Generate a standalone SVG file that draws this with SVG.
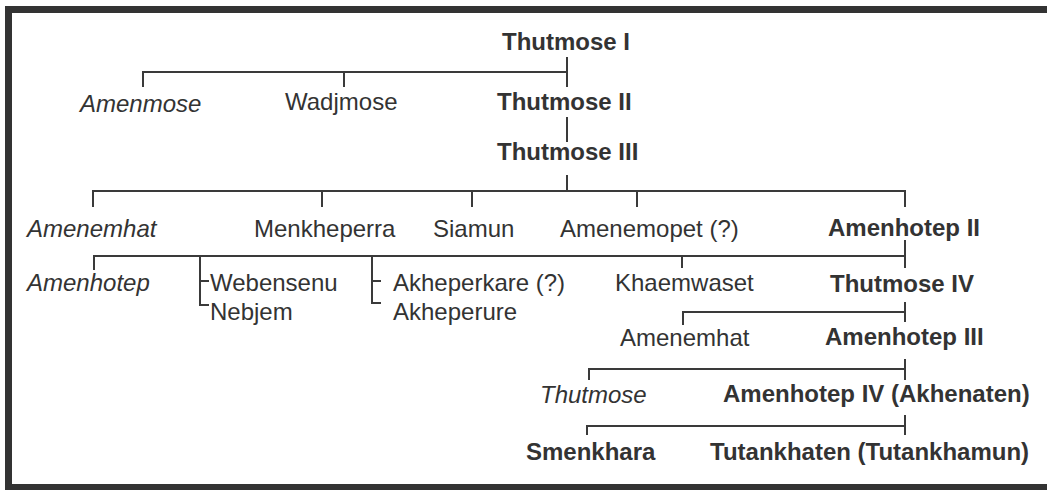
<svg xmlns="http://www.w3.org/2000/svg" width="1047" height="490" viewBox="0 0 1047 490">
<style>
text{font-family:"Liberation Sans",Arial,sans-serif;font-size:24px;fill:#333}
.b{font-weight:bold}
.i{font-style:italic}
.c line,.c path{stroke:#3a3a3a;stroke-width:2;fill:none}
</style>
<rect x="0" y="0" width="1047" height="490" fill="#fff"/>
<g id="frame" fill="#333">
<rect x="5" y="6" width="1042" height="7"/>
<rect x="5" y="6" width="7" height="484"/>
<rect x="5" y="484" width="1042" height="6"/>
</g>
<g class="c" id="connectors">
<path d="M143,87 V72 H567"/>
<line x1="344" y1="72" x2="344" y2="87"/>
<line x1="567" y1="57" x2="567" y2="87"/>
<line x1="567" y1="117" x2="567" y2="142"/>
<path d="M93,207 V191 H905 V207"/>
<line x1="322" y1="191" x2="322" y2="207"/>
<line x1="472" y1="191" x2="472" y2="207"/>
<line x1="637" y1="191" x2="637" y2="207"/>
<line x1="567" y1="175" x2="567" y2="191"/>
<path d="M94,270 V256 H905"/>
<line x1="905" y1="240" x2="905" y2="268"/>
<path d="M209,281 H200 M200,256 V305 H209"/>
<path d="M381,281 H372 M372,256 V303 H381"/>
<line x1="682" y1="256" x2="682" y2="268"/>
<path d="M683,325 V312 H905"/>
<line x1="905" y1="302" x2="905" y2="322"/>
<path d="M589,380 V369 H905"/>
<line x1="905" y1="359" x2="905" y2="380"/>
<path d="M587,435 V426 H905"/>
<line x1="905" y1="415" x2="905" y2="435"/>
</g>
<g id="thutmose1"><text class="b" x="502" y="50">Thutmose I</text></g>
<g id="amenmose"><text class="i" x="80" y="112">Amenmose</text></g>
<g id="wadjmose"><text x="285" y="110">Wadjmose</text></g>
<g id="thutmose2"><text class="b" x="497" y="110">Thutmose II</text></g>
<g id="thutmose3"><text class="b" x="497" y="160">Thutmose III</text></g>
<g id="amenemhat1"><text class="i" x="27" y="237">Amenemhat</text></g>
<g id="menkheperra"><text x="254" y="237">Menkheperra</text></g>
<g id="siamun"><text x="433" y="237">Siamun</text></g>
<g id="amenemopet"><text x="560" y="237">Amenemopet (?)</text></g>
<g id="amenhotep2"><text class="b" x="828" y="236">Amenhotep II</text></g>
<g id="amenhotep"><text class="i" x="27" y="291">Amenhotep</text></g>
<g id="webensenu"><text x="210" y="291">Webensenu</text></g>
<g id="nebjem"><text x="210" y="320">Nebjem</text></g>
<g id="akheperkare"><text x="393" y="291">Akheperkare (?)</text></g>
<g id="akheperure"><text x="393" y="320">Akheperure</text></g>
<g id="khaemwaset"><text x="615" y="291">Khaemwaset</text></g>
<g id="thutmose4"><text class="b" x="830" y="292">Thutmose IV</text></g>
<g id="amenemhat2"><text x="620" y="346">Amenemhat</text></g>
<g id="amenhotep3"><text class="b" x="825" y="345">Amenhotep III</text></g>
<g id="thutmose"><text class="i" x="540" y="403">Thutmose</text></g>
<g id="amenhotep4"><text class="b" x="723" y="402">Amenhotep IV (Akhenaten)</text></g>
<g id="smenkhara"><text class="b" x="526" y="460">Smenkhara</text></g>
<g id="tutankhaten"><text class="b" x="710" y="460">Tutankhaten (Tutankhamun)</text></g>
</svg>
